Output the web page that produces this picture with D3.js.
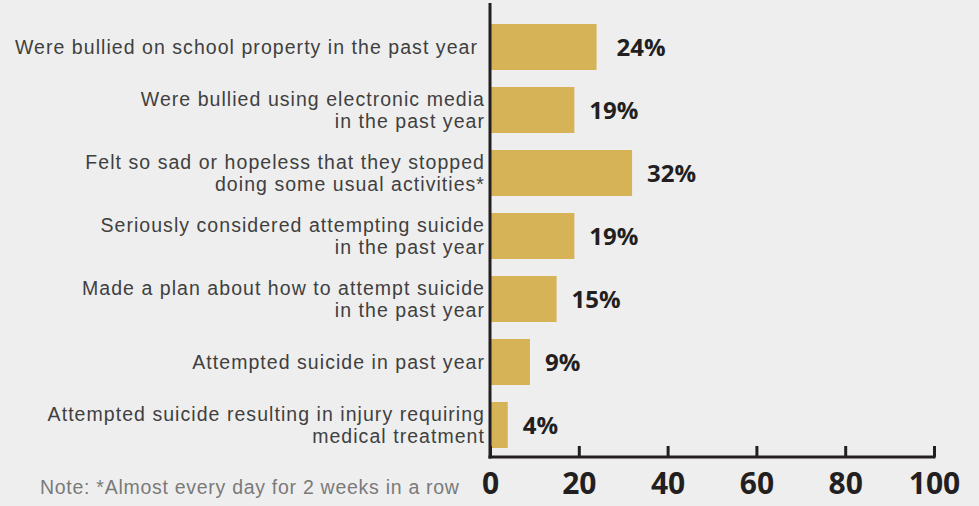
<!DOCTYPE html>
<html><head><meta charset="utf-8">
<script src="https://cdn.jsdelivr.net/npm/d3@7"></script>
<style>
html,body{margin:0;padding:0;background:#eeeeee;}
svg{display:block;}
</style></head>
<body>
<svg id="chart" width="979" height="506"></svg>
<script>
const categories = [
  ["Were bullied on school property in the past year"],
  ["Were bullied using electronic media", "in the past year"],
  ["Felt so sad or hopeless that they stopped", "doing some usual activities*"],
  ["Seriously considered attempting suicide", "in the past year"],
  ["Made a plan about how to attempt suicide", "in the past year"],
  ["Attempted suicide in past year"],
  ["Attempted suicide resulting in injury requiring", "medical treatment"]
];
const values = [24, 19, 32, 19, 15, 9, 4];
const valueLabels = ["24%", "19%", "32%", "19%", "15%", "9%", "4%"];
const tickValues = [0, 20, 40, 60, 80, 100];
const note = "Note: *Almost every day for 2 weeks in a row";

const svg = d3.select("#chart");
const W = 979, H = 506;
svg.append("rect").attr("width", W).attr("height", H).attr("fill", "#eeeeee");

const x0 = 490, x1 = 934, yTop = 3, yAxis = 457;
const x = d3.scaleLinear().domain([0, 100]).range([x0, x1]);
const y = d3.scaleBand().domain(d3.range(values.length)).range([15.5, 456.5]).paddingInner(17/63).paddingOuter(8.5/63);

const bw = y.bandwidth();
const g = svg.append("g");

g.selectAll("rect.bar").data(values).join("rect")
  .attr("class", "bar")
  .attr("x", x(0))
  .attr("y", (d, i) => y(i))
  .attr("width", d => x(d) - x(0))
  .attr("height", bw)
  .attr("fill", "#d6b357");

// value labels
g.selectAll("text.val").data(values).join("text")
  .attr("class", "val")
  .attr("x", (d, i) => x(d) + (i === 0 ? 20 : 15))
  .attr("y", (d, i) => y(i) + bw / 2 + 9)
  .attr("font-family", "'Open Sans', sans-serif")
  .attr("font-weight", 700)
  .attr("font-size", 24)
  .attr("fill", "#231f20")
  .text((d, i) => valueLabels[i]);

// category labels
const lab = g.selectAll("text.cat").data(categories).join("text")
  .attr("class", "cat")
  .attr("text-anchor", "end")
  .attr("font-family", "'Liberation Sans', sans-serif")
  .attr("font-size", 19.5)
  .attr("letter-spacing", 1.05)
  .attr("fill", "#404040");
lab.each(function(lines, i) {
  const t = d3.select(this);
  const cy = y(i) + bw / 2;
  const lh = 22;
  const start = cy - (lines.length - 1) * lh / 2 + 7;
  lines.forEach((ln, j) => {
    t.append("tspan").attr("x", lines.length === 1 && i === 0 ? 478 : 485).attr("y", start + j * lh).text(ln);
  });
});

// axis
const axis = d3.axisBottom(x).tickValues(tickValues).tickSize(0).tickPadding(0).tickFormat(d3.format("d"));
const ax = svg.append("g").attr("transform", `translate(0,${yAxis})`).call(axis);
ax.select(".domain").remove();
ax.selectAll(".tick text").remove();
ax.selectAll(".tick").append("line")
  .attr("y1", 0).attr("y2", -11)
  .attr("stroke", "#231f20").attr("stroke-width", 3);
ax.selectAll(".tick").append("text")
  .attr("y", 37)
  .attr("text-anchor", "middle")
  .attr("font-family", "'Open Sans', sans-serif")
  .attr("font-weight", 700)
  .attr("font-size", 30)
  .attr("fill", "#231f20")
  .text(d => d);

svg.append("line").attr("x1", x0).attr("x2", x0).attr("y1", yTop).attr("y2", yAxis + 1.5)
  .attr("stroke", "#231f20").attr("stroke-width", 3);
svg.append("line").attr("x1", x0 - 1.5).attr("x2", x1 + 1.5).attr("y1", yAxis).attr("y2", yAxis)
  .attr("stroke", "#231f20").attr("stroke-width", 3);

svg.append("text").attr("x", 40).attr("y", 494)
  .attr("font-family", "'Liberation Sans', sans-serif")
  .attr("font-size", 19.5)
  .attr("letter-spacing", 0.72)
  .attr("fill", "#7a7a7a")
  .text(note);
</script>
</body></html>
